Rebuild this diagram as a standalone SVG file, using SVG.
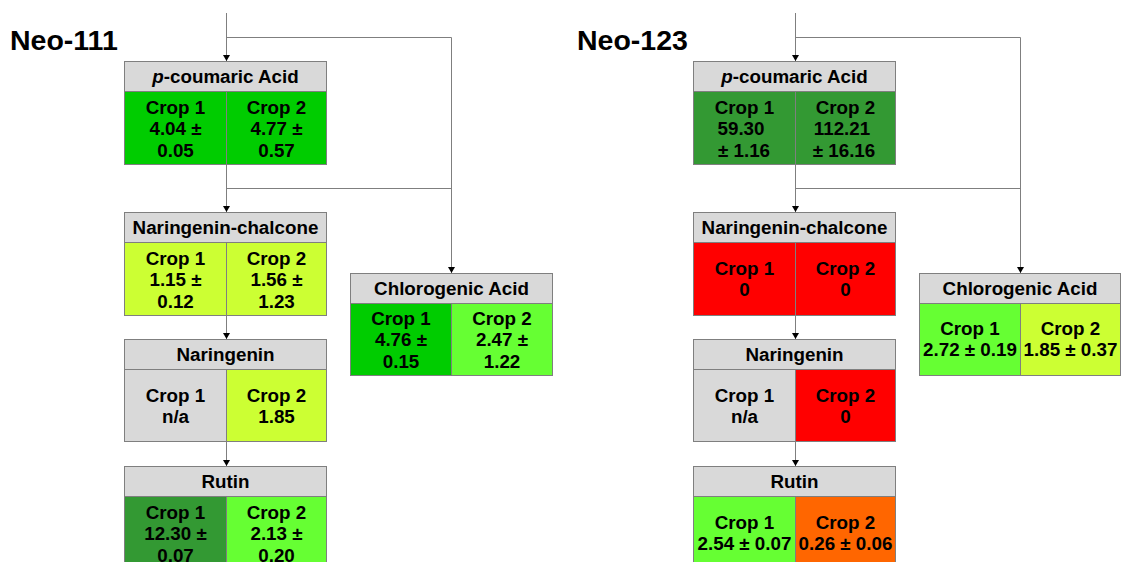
<svg xmlns="http://www.w3.org/2000/svg" width="1121" height="562" viewBox="0 0 1121 562">
<style>
text{font-family:"Liberation Sans",Arial,sans-serif;font-weight:bold;fill:#000;text-anchor:middle}
.t{font-size:28.5px;text-anchor:start}
.h{font-size:18.8px}
.b{font-size:18.8px}
.hd{fill:#d9d9d9;stroke:#7f7f7f;stroke-width:1}
.c{stroke:#7f7f7f;stroke-width:1}
.g1{fill:#00cc00}.g2{fill:#ccff33}.g3{fill:#66ff33}.g4{fill:#339933}.rd{fill:#ff0000}.or{fill:#ff6600}.gy{fill:#d9d9d9}
.ln{fill:none;stroke:#7f7f7f;stroke-width:1}
</style>
<defs>
<marker id="ah" markerUnits="userSpaceOnUse" markerWidth="6" markerHeight="7" refX="6" refY="3.5" orient="auto" viewBox="0 0 6 7">
<path d="M0,0 L6,3.5 L0,7 Z" fill="#000"/>
</marker>
</defs>
<rect width="1121" height="562" fill="#fff"/>
<text class="t" x="10" y="50">Neo-111</text>
<text class="t" x="577" y="50">Neo-123</text>
<g id="connectors">
<path class="ln" d="M226.5,13 V61" marker-end="url(#ah)"/>
<path class="ln" d="M226.5,37.5 H451.5 V273" marker-end="url(#ah)"/>
<path class="ln" d="M226.5,164 V212" marker-end="url(#ah)"/>
<path class="ln" d="M226.5,188.5 H451.5"/>
<path class="ln" d="M226.5,315 V339" marker-end="url(#ah)"/>
<path class="ln" d="M226.5,441 V466" marker-end="url(#ah)"/>
<path class="ln" d="M795.5,13 V61" marker-end="url(#ah)"/>
<path class="ln" d="M795.5,37.5 H1020.5 V273" marker-end="url(#ah)"/>
<path class="ln" d="M795.5,164 V212" marker-end="url(#ah)"/>
<path class="ln" d="M795.5,188.5 H1020.5"/>
<path class="ln" d="M795.5,315 V339" marker-end="url(#ah)"/>
<path class="ln" d="M795.5,441 V466" marker-end="url(#ah)"/>
</g>
<g id="n111-pcoumaric">
<rect class="hd" x="124.5" y="61.5" width="202" height="30"/>
<rect class="c g1" x="124.5" y="91.5" width="102" height="73"/>
<rect class="c g1" x="226.5" y="91.5" width="100" height="73"/>
<text class="h" x="225.5" y="83"><tspan font-style="italic">p</tspan>-coumaric Acid</text>
<text class="b" x="175.5" y="114">Crop 1</text><text class="b" x="175.5" y="135">4.04 ±</text><text class="b" x="175.5" y="157">0.05</text>
<text class="b" x="276.5" y="114">Crop 2</text><text class="b" x="276.5" y="135">4.77 ±</text><text class="b" x="276.5" y="157">0.57</text>
</g>
<g id="n111-chalcone">
<rect class="hd" x="124.5" y="212.5" width="202" height="30"/>
<rect class="c g2" x="124.5" y="242.5" width="102" height="73"/>
<rect class="c g2" x="226.5" y="242.5" width="100" height="73"/>
<text class="h" x="225.5" y="234">Naringenin-chalcone</text>
<text class="b" x="175.5" y="265">Crop 1</text><text class="b" x="175.5" y="286">1.15 ±</text><text class="b" x="175.5" y="308">0.12</text>
<text class="b" x="276.5" y="265">Crop 2</text><text class="b" x="276.5" y="286">1.56 ±</text><text class="b" x="276.5" y="308">1.23</text>
</g>
<g id="n111-naringenin">
<rect class="hd" x="124.5" y="339.5" width="202" height="30"/>
<rect class="c gy" x="124.5" y="369.5" width="102" height="72"/>
<rect class="c g2" x="226.5" y="369.5" width="100" height="72"/>
<text class="h" x="225.5" y="361">Naringenin</text>
<text class="b" x="175.5" y="402">Crop 1</text><text class="b" x="175.5" y="423">n/a</text>
<text class="b" x="276.5" y="402">Crop 2</text><text class="b" x="276.5" y="423">1.85</text>
</g>
<g id="n111-rutin">
<rect class="hd" x="124.5" y="466.5" width="202" height="30"/>
<rect class="c g4" x="124.5" y="496.5" width="102" height="73"/>
<rect class="c g3" x="226.5" y="496.5" width="100" height="73"/>
<text class="h" x="225.5" y="488">Rutin</text>
<text class="b" x="175.5" y="519">Crop 1</text><text class="b" x="175.5" y="540">12.30 ±</text><text class="b" x="175.5" y="562">0.07</text>
<text class="b" x="276.5" y="519">Crop 2</text><text class="b" x="276.5" y="540">2.13 ±</text><text class="b" x="276.5" y="562">0.20</text>
</g>
<g id="n111-chlorogenic">
<rect class="hd" x="350.5" y="273.5" width="202" height="30"/>
<rect class="c g1" x="350.5" y="303.5" width="101" height="72"/>
<rect class="c g3" x="451.5" y="303.5" width="101" height="72"/>
<text class="h" x="451.5" y="295">Chlorogenic Acid</text>
<text class="b" x="401" y="325">Crop 1</text><text class="b" x="401" y="346">4.76 ±</text><text class="b" x="401" y="368">0.15</text>
<text class="b" x="502" y="325">Crop 2</text><text class="b" x="502" y="346">2.47 ±</text><text class="b" x="502" y="368">1.22</text>
</g>
<g id="n123-pcoumaric">
<rect class="hd" x="693.5" y="61.5" width="202" height="30"/>
<rect class="c g4" x="693.5" y="91.5" width="102" height="73"/>
<rect class="c g4" x="795.5" y="91.5" width="100" height="73"/>
<text class="h" x="794.5" y="83"><tspan font-style="italic">p</tspan>-coumaric Acid</text>
<text class="b" x="744.5" y="114">Crop 1</text><text class="b" x="741" y="135">59.30</text><text class="b" x="744" y="157">± 1.16</text>
<text class="b" x="845.5" y="114">Crop 2</text><text class="b" x="842" y="135">112.21</text><text class="b" x="844" y="157">± 16.16</text>
</g>
<g id="n123-chalcone">
<rect class="hd" x="693.5" y="212.5" width="202" height="30"/>
<rect class="c rd" x="693.5" y="242.5" width="102" height="73"/>
<rect class="c rd" x="795.5" y="242.5" width="100" height="73"/>
<text class="h" x="794.5" y="234">Naringenin-chalcone</text>
<text class="b" x="744.5" y="275">Crop 1</text><text class="b" x="744.5" y="296">0</text>
<text class="b" x="845.5" y="275">Crop 2</text><text class="b" x="845.5" y="296">0</text>
</g>
<g id="n123-naringenin">
<rect class="hd" x="693.5" y="339.5" width="202" height="30"/>
<rect class="c gy" x="693.5" y="369.5" width="102" height="72"/>
<rect class="c rd" x="795.5" y="369.5" width="100" height="72"/>
<text class="h" x="794.5" y="361">Naringenin</text>
<text class="b" x="744.5" y="402">Crop 1</text><text class="b" x="744.5" y="423">n/a</text>
<text class="b" x="845.5" y="402">Crop 2</text><text class="b" x="845.5" y="423">0</text>
</g>
<g id="n123-rutin">
<rect class="hd" x="693.5" y="466.5" width="202" height="30"/>
<rect class="c g3" x="693.5" y="496.5" width="102" height="73"/>
<rect class="c or" x="795.5" y="496.5" width="100" height="73"/>
<text class="h" x="794.5" y="488">Rutin</text>
<text class="b" x="744.5" y="529">Crop 1</text><text class="b" x="744.5" y="550">2.54 ± 0.07</text>
<text class="b" x="845.5" y="529">Crop 2</text><text class="b" x="845.5" y="550">0.26 ± 0.06</text>
</g>
<g id="n123-chlorogenic">
<rect class="hd" x="919.5" y="273.5" width="201" height="30"/>
<rect class="c g3" x="919.5" y="303.5" width="101" height="72"/>
<rect class="c g2" x="1020.5" y="303.5" width="100" height="72"/>
<text class="h" x="1020" y="295">Chlorogenic Acid</text>
<text class="b" x="970" y="335">Crop 1</text><text class="b" x="970" y="356">2.72 ± 0.19</text>
<text class="b" x="1070.5" y="335">Crop 2</text><text class="b" x="1070.5" y="356">1.85 ± 0.37</text>
</g>
</svg>
